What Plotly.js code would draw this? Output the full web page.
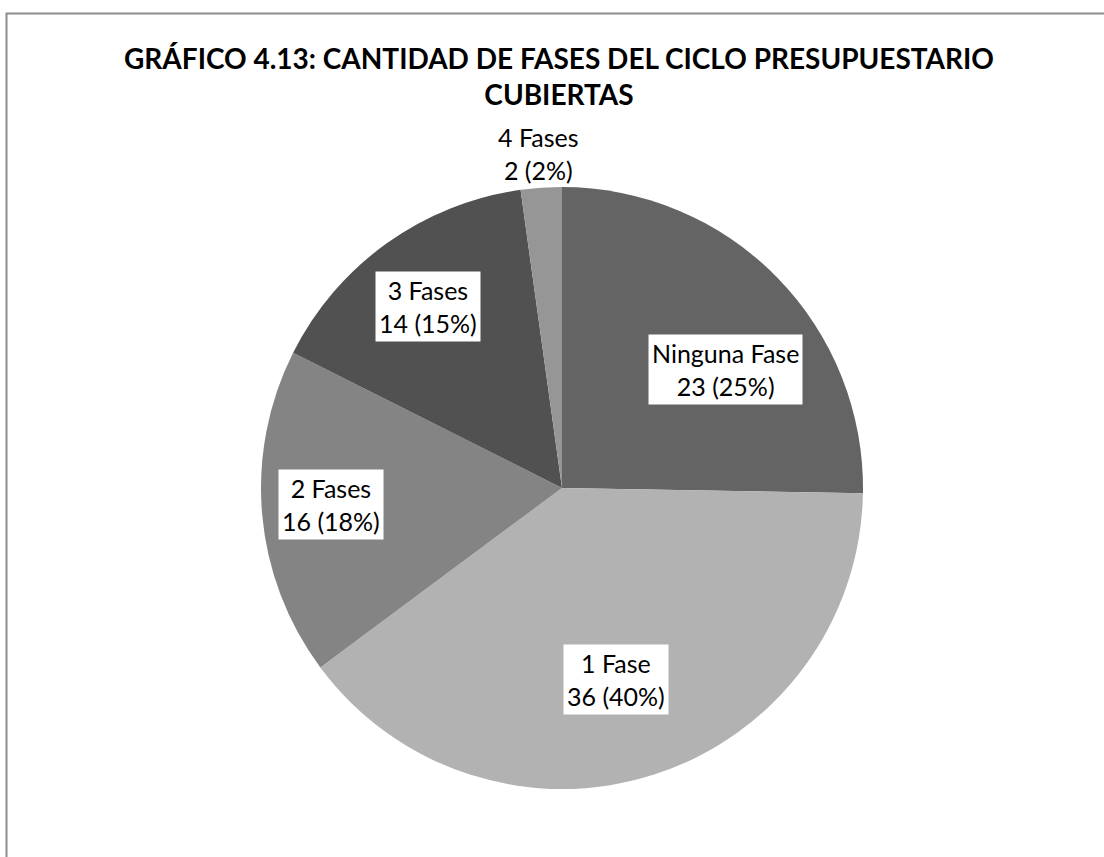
<!DOCTYPE html>
<html>
<head>
<meta charset="utf-8">
<script src="https://cdn.plot.ly/plotly-3.0.1.min.js"></script>
<style>html,body{margin:0;padding:0;background:#fff;}#chart{width:1104px;height:857px;}</style>
</head>
<body>
<div id="chart"></div>
<script>
const categories = ["Ninguna Fase", "1 Fase", "2 Fases", "3 Fases", "4 Fases"];
const values = [23, 36, 16, 14, 2];
const sliceColors = ["#646464", "#b2b2b2", "#848484", "#515151", "#969696"];
const chartTitle = "GRÁFICO 4.13: CANTIDAD DE FASES DEL CICLO PRESUPUESTARIO<br>CUBIERTAS";

const W = 1104, H = 857;
const cx = 562, cy = 488, R = 301;
const labelRadius = [0.67, 0.66, 0.77, 0.75, 1.115];
const labelAngleShift = [8.5, 2, 0.8, -0.8, 0];
const FONT = "Lato, 'Open Sans', sans-serif";

const total = values.reduce((a, b) => a + b, 0);
let cum = 0;
const annotations = values.map((v, i) => {
  const mid = (cum + v / 2) / total * 360 + labelAngleShift[i];
  cum += v;
  const th = mid * Math.PI / 180;
  const px = cx + R * labelRadius[i] * Math.sin(th);
  const py = cy - R * labelRadius[i] * Math.cos(th);
  const pct = Math.round(v / total * 100);
  return {
    xref: "paper", yref: "paper",
    x: px / W, y: 1 - py / H,
    xanchor: "center", yanchor: "middle",
    text: categories[i] + "<br>" + v + " (" + pct + "%)",
    showarrow: false,
    bgcolor: i === 4 ? "rgba(255,255,255,0)" : "#ffffff",
    borderpad: 3,
    font: {family: FONT, size: 25, color: "#000000"}
  };
});

const data = [{
  type: "pie",
  labels: categories,
  values: values,
  sort: false,
  direction: "clockwise",
  rotation: 0,
  marker: {colors: sliceColors, line: {width: 0}},
  textinfo: "none",
  textposition: "none",
  hoverinfo: "label+value+percent",
  showlegend: false,
  domain: {x: [(cx - R) / W, (cx + R) / W], y: [(H - cy - R) / H, (H - cy + R) / H]}
}];

const layout = {
  width: W, height: H,
  margin: {l: 0, r: 0, t: 0, b: 0},
  paper_bgcolor: "#ffffff",
  showlegend: false,
  title: {
    text: "<b>" + chartTitle + "</b>",
    x: 559 / W, xanchor: "center",
    y: 1 - 69 / H, yanchor: "middle",
    font: {family: FONT, size: 28, color: "#000000"}
  },
  annotations: annotations,
  shapes: [{
    type: "rect", xref: "paper", yref: "paper",
    x0: 6.5 / W, x1: 1.02, y0: -0.02, y1: 1 - 13.5 / H,
    line: {color: "#8c8c8c", width: 2}, fillcolor: "rgba(0,0,0,0)"
  }]
};

Plotly.newPlot("chart", data, layout, {displayModeBar: false, staticPlot: true});
</script>
</body>
</html>
